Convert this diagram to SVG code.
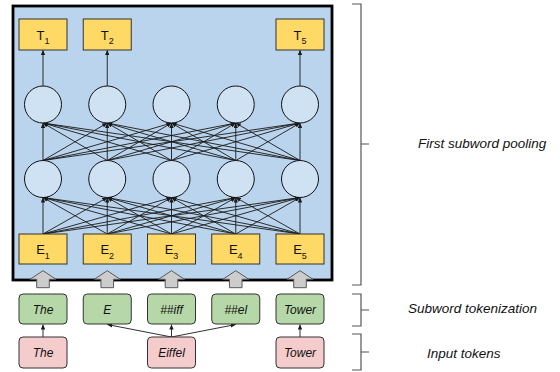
<svg xmlns="http://www.w3.org/2000/svg" width="560" height="372" viewBox="0 0 560 372">
<style>
text{font-family:"Liberation Sans",Arial,sans-serif;fill:#111}
.y{fill:#ffd966;stroke:#333;stroke-width:1}
.g{fill:#b6d7a8;stroke:#333;stroke-width:1}
.p{fill:#f4cccc;stroke:#333;stroke-width:1}
.c{fill:#cfe2f3;stroke:#111;stroke-width:1}
.lbl{font-size:13px;text-anchor:middle}
.sub{font-size:9px}
.it{font-size:12px;font-style:italic;text-anchor:middle}
.side{font-size:13.5px;font-style:italic}
.ga{fill:#cccccc;stroke:#595959;stroke-width:1}
.br{fill:none;stroke:#555;stroke-width:1.2}
#connectors line{stroke:#1a1a1a;stroke-width:0.9;marker-end:url(#ah)}
</style>
<defs>
<marker id="ah" markerUnits="userSpaceOnUse" markerWidth="5" markerHeight="4.4" viewBox="0 0 5 4.4" refX="5" refY="2.2" orient="auto"><path d="M0,0 L5,2.2 L0,4.4 z" fill="#1a1a1a"/></marker>
</defs>
<rect id="frame" x="13" y="6" width="319" height="274" fill="#b9d4ec" stroke="#000" stroke-width="2.8"/>
<g id="connectors">
<line x1="43" y1="234" x2="43" y2="197.5"/><line x1="43" y1="234" x2="107.25" y2="197.5"/><line x1="43" y1="234" x2="171.5" y2="197.5"/><line x1="43" y1="234" x2="235.75" y2="197.5"/><line x1="43" y1="234" x2="300" y2="197.5"/>
<line x1="107.25" y1="234" x2="43" y2="197.5"/><line x1="107.25" y1="234" x2="107.25" y2="197.5"/><line x1="107.25" y1="234" x2="171.5" y2="197.5"/><line x1="107.25" y1="234" x2="235.75" y2="197.5"/><line x1="107.25" y1="234" x2="300" y2="197.5"/>
<line x1="171.5" y1="234" x2="43" y2="197.5"/><line x1="171.5" y1="234" x2="107.25" y2="197.5"/><line x1="171.5" y1="234" x2="171.5" y2="197.5"/><line x1="171.5" y1="234" x2="235.75" y2="197.5"/><line x1="171.5" y1="234" x2="300" y2="197.5"/>
<line x1="235.75" y1="234" x2="43" y2="197.5"/><line x1="235.75" y1="234" x2="107.25" y2="197.5"/><line x1="235.75" y1="234" x2="171.5" y2="197.5"/><line x1="235.75" y1="234" x2="235.75" y2="197.5"/><line x1="235.75" y1="234" x2="300" y2="197.5"/>
<line x1="300" y1="234" x2="43" y2="197.5"/><line x1="300" y1="234" x2="107.25" y2="197.5"/><line x1="300" y1="234" x2="171.5" y2="197.5"/><line x1="300" y1="234" x2="235.75" y2="197.5"/><line x1="300" y1="234" x2="300" y2="197.5"/>
<line x1="43" y1="160.5" x2="43" y2="123"/><line x1="43" y1="160.5" x2="107.25" y2="123"/><line x1="43" y1="160.5" x2="171.5" y2="123"/><line x1="43" y1="160.5" x2="235.75" y2="123"/><line x1="43" y1="160.5" x2="300" y2="123"/>
<line x1="107.25" y1="160.5" x2="43" y2="123"/><line x1="107.25" y1="160.5" x2="107.25" y2="123"/><line x1="107.25" y1="160.5" x2="171.5" y2="123"/><line x1="107.25" y1="160.5" x2="235.75" y2="123"/><line x1="107.25" y1="160.5" x2="300" y2="123"/>
<line x1="171.5" y1="160.5" x2="43" y2="123"/><line x1="171.5" y1="160.5" x2="107.25" y2="123"/><line x1="171.5" y1="160.5" x2="171.5" y2="123"/><line x1="171.5" y1="160.5" x2="235.75" y2="123"/><line x1="171.5" y1="160.5" x2="300" y2="123"/>
<line x1="235.75" y1="160.5" x2="43" y2="123"/><line x1="235.75" y1="160.5" x2="107.25" y2="123"/><line x1="235.75" y1="160.5" x2="171.5" y2="123"/><line x1="235.75" y1="160.5" x2="235.75" y2="123"/><line x1="235.75" y1="160.5" x2="300" y2="123"/>
<line x1="300" y1="160.5" x2="43" y2="123"/><line x1="300" y1="160.5" x2="107.25" y2="123"/><line x1="300" y1="160.5" x2="171.5" y2="123"/><line x1="300" y1="160.5" x2="235.75" y2="123"/><line x1="300" y1="160.5" x2="300" y2="123"/>
<line x1="43" y1="86" x2="43" y2="50"/><line x1="107.25" y1="86" x2="107.25" y2="50"/><line x1="300" y1="86" x2="300" y2="50"/>
<line x1="43" y1="337" x2="43" y2="324.5"/>
<line x1="171.5" y1="337" x2="107.25" y2="324.5"/>
<line x1="171.5" y1="337" x2="171.5" y2="324.5"/>
<line x1="171.5" y1="337" x2="235.75" y2="324.5"/>
<line x1="300" y1="337" x2="300" y2="324.5"/>
</g>
<g id="T1"><rect class="y" x="19" y="19" width="48" height="31"/><text class="lbl" x="43" y="39.5">T<tspan class="sub" dy="4.5">1</tspan></text></g>
<g id="T2"><rect class="y" x="83.25" y="19" width="48" height="31"/><text class="lbl" x="107.25" y="39.5">T<tspan class="sub" dy="4.5">2</tspan></text></g>
<g id="T5"><rect class="y" x="276" y="19" width="48" height="31"/><text class="lbl" x="300" y="39.5">T<tspan class="sub" dy="4.5">5</tspan></text></g>
<g id="H2_1"><circle class="c" cx="43" cy="104.5" r="18.5"/></g>
<g id="H2_2"><circle class="c" cx="107.25" cy="104.5" r="18.5"/></g>
<g id="H2_3"><circle class="c" cx="171.5" cy="104.5" r="18.5"/></g>
<g id="H2_4"><circle class="c" cx="235.75" cy="104.5" r="18.5"/></g>
<g id="H2_5"><circle class="c" cx="300" cy="104.5" r="18.5"/></g>
<g id="H1_1"><circle class="c" cx="43" cy="179" r="18.5"/></g>
<g id="H1_2"><circle class="c" cx="107.25" cy="179" r="18.5"/></g>
<g id="H1_3"><circle class="c" cx="171.5" cy="179" r="18.5"/></g>
<g id="H1_4"><circle class="c" cx="235.75" cy="179" r="18.5"/></g>
<g id="H1_5"><circle class="c" cx="300" cy="179" r="18.5"/></g>
<g id="E1"><rect class="y" x="19" y="234" width="48" height="30"/><text class="lbl" x="43" y="254.3">E<tspan class="sub" dy="5">1</tspan></text></g>
<g id="E2"><rect class="y" x="83.25" y="234" width="48" height="30"/><text class="lbl" x="107.25" y="254.3">E<tspan class="sub" dy="5">2</tspan></text></g>
<g id="E3"><rect class="y" x="147.5" y="234" width="48" height="30"/><text class="lbl" x="171.5" y="254.3">E<tspan class="sub" dy="5">3</tspan></text></g>
<g id="E4"><rect class="y" x="211.75" y="234" width="48" height="30"/><text class="lbl" x="235.75" y="254.3">E<tspan class="sub" dy="5">4</tspan></text></g>
<g id="E5"><rect class="y" x="276" y="234" width="48" height="30"/><text class="lbl" x="300" y="254.3">E<tspan class="sub" dy="5">5</tspan></text></g>
<g id="inputArrows">
<path class="ga" d="M43,270.7 L56,279.3 L49.3,279.3 L49.3,287.7 L36.7,287.7 L36.7,279.3 L30,279.3 Z"/>
<path class="ga" d="M107.25,270.7 L120.25,279.3 L113.55,279.3 L113.55,287.7 L100.95,287.7 L100.95,279.3 L94.25,279.3 Z"/>
<path class="ga" d="M171.5,270.7 L184.5,279.3 L177.8,279.3 L177.8,287.7 L165.2,287.7 L165.2,279.3 L158.5,279.3 Z"/>
<path class="ga" d="M235.75,270.7 L248.75,279.3 L242.05,279.3 L242.05,287.7 L229.45,287.7 L229.45,279.3 L222.75,279.3 Z"/>
<path class="ga" d="M300,270.7 L313,279.3 L306.3,279.3 L306.3,287.7 L293.7,287.7 L293.7,279.3 L287,279.3 Z"/>
</g>
<g id="S1"><rect class="g" x="19" y="294" width="48" height="30" rx="4"/><text class="it" x="43" y="313.5">The</text></g>
<g id="S2"><rect class="g" x="83.25" y="294" width="48" height="30" rx="4"/><text class="it" x="107.25" y="313.5">E</text></g>
<g id="S3"><rect class="g" x="147.5" y="294" width="48" height="30" rx="4"/><text class="it" x="171.5" y="313.5">##iff</text></g>
<g id="S4"><rect class="g" x="211.75" y="294" width="48" height="30" rx="4"/><text class="it" x="235.75" y="313.5">##el</text></g>
<g id="S5"><rect class="g" x="276" y="294" width="48" height="30" rx="4"/><text class="it" x="300" y="313.5">Tower</text></g>
<g id="I1"><rect class="p" x="19" y="337" width="48" height="31" rx="4"/><text class="it" x="43" y="357">The</text></g>
<g id="I2"><rect class="p" x="147.5" y="337" width="48" height="31" rx="4"/><text class="it" x="171.5" y="357">Eiffel</text></g>
<g id="I3"><rect class="p" x="276" y="337" width="48" height="31" rx="4"/><text class="it" x="300" y="357">Tower</text></g>
<g id="brackets">
<path class="br" d="M352,4 H361 V285 H352 M361,144 H369"/>
<path class="br" d="M352,294 H361 V326 H352 M361,310 H369"/>
<path class="br" d="M352,334 H361 V370 H352 M361,352 H369"/>
</g>
<text class="side" x="418" y="147.5">First subword pooling</text>
<text class="side" x="408" y="313">Subword tokenization</text>
<text class="side" x="427" y="358">Input tokens</text>
</svg>
